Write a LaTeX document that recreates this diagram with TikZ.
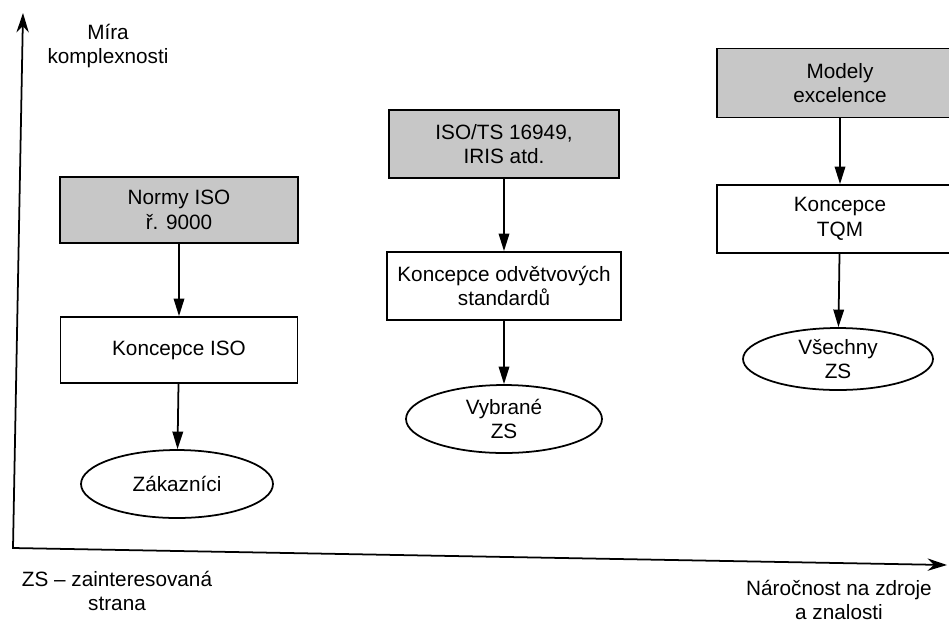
\documentclass[tikz,border=0pt]{standalone}
\usepackage{fontspec}
\setmainfont{Liberation Sans}
\usepackage{tikz}
\usetikzlibrary{arrows.meta, shapes.geometric}

\begin{document}
\begin{tikzpicture}[x=0.02cm, y=-0.02cm, >={Triangle[length=10pt, width=6pt]},
    font=\fontsize{11.8}{14}\selectfont,
    normbox/.style={draw, line width=1pt, fill=black!22, align=center, inner sep=0pt},
    conbox/.style={draw, line width=1pt, fill=white, align=center, inner sep=0pt},
    zsell/.style={draw, ellipse, line width=1pt, align=center, inner sep=0pt},
    flow/.style={->, line width=1pt}]
  \clip (0,0) rectangle (949,626);
  % Axes
  \coordinate (O) at (13,548);
  \coordinate (ytop) at (23,13);
  \coordinate (xend) at (947,565);
  \draw[{Stealth[length=11pt, width=7pt]}-{Stealth[length=11pt, width=7pt]}, line width=1pt]
    (ytop) -- (O) -- (xend);
  \node[align=center] (ylab) at (108,46) {Míra\\komplexnosti};
  \node[align=center] (xlab) at (839,600) {Náročnost na zdroje\\a znalosti};
  \node[align=center] (note) at (117,591) {ZS -- zainteresovaná\\strana};
  % Column 1
  \node[normbox, minimum width=4.76cm, minimum height=1.32cm] (n1) at (179,210) {Normy ISO\\ř. 9000};
  \node[conbox, minimum width=4.74cm, minimum height=1.32cm] (k1) at (179,350) {Koncepce ISO};
  \node[zsell, minimum width=3.84cm, minimum height=1.36cm] (z1) at (177,484) {Zákazníci};
  \draw[flow] (n1) -- (k1);
  \draw[flow] (k1) -- (z1);
  % Column 2
  \node[normbox, minimum width=4.6cm, minimum height=1.36cm] (n2) at (504,144) {ISO/TS 16949,\\IRIS atd.};
  \node[conbox, minimum width=4.68cm, minimum height=1.36cm] (k2) at (504,286) {Koncepce odvětvových\\standardů};
  \node[zsell, minimum width=3.92cm, minimum height=1.36cm] (z2) at (504,419) {Vybrané\\ZS};
  \draw[flow] (n2) -- (k2);
  \draw[flow] (k2) -- (z2);
  % Column 3
  \node[normbox, minimum width=4.92cm, minimum height=1.38cm] (n3) at (840,83) {Modely\\excelence};
  \node[conbox, minimum width=4.92cm, minimum height=1.36cm] (k3) at (840,219) {Koncepce\\TQM};
  \node[zsell, minimum width=3.8cm, minimum height=1.24cm] (z3) at (838,359) {Všechny\\ZS};
  \draw[flow] (n3) -- (k3);
  \draw[flow] (k3) -- (z3);
\end{tikzpicture}
\end{document}
